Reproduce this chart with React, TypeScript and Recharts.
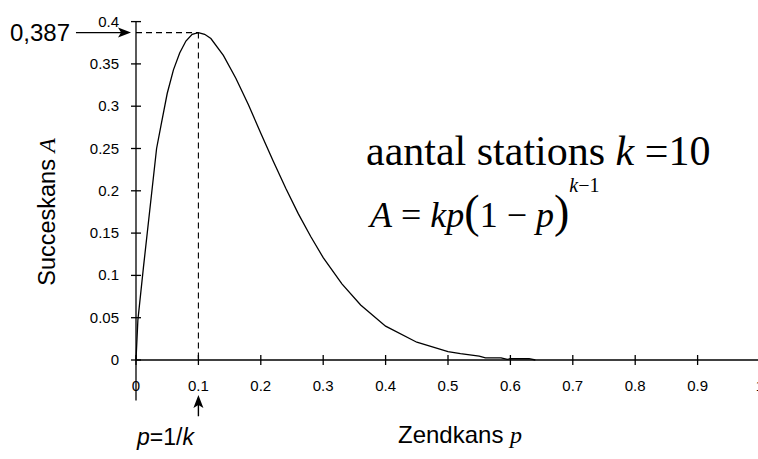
import React from 'react';
import { LineChart, Line, XAxis, YAxis, ReferenceLine, Customized } from 'recharts';

// Zendkans p (x) and Succeskans A (y)
const pValues = [0, 0.003, 0.012, 0.033, 0.04, 0.05, 0.06, 0.07, 0.08, 0.09, 0.1, 0.11, 0.12, 0.14, 0.16, 0.18, 0.2, 0.22, 0.24, 0.26, 0.28, 0.3, 0.33, 0.36, 0.4, 0.45, 0.5, 0.52, 0.55, 0.56, 0.585, 0.595, 0.6, 0.63, 0.64];
const aValues = [0, 0.047, 0.11, 0.25, 0.277, 0.315, 0.343, 0.363, 0.377, 0.385, 0.387, 0.385, 0.38, 0.36, 0.333, 0.302, 0.268, 0.235, 0.203, 0.173, 0.146, 0.121, 0.09, 0.065, 0.04, 0.021, 0.01, 0.0075, 0.0045, 0.0025, 0.0025, 0.0008, 0.0015, 0.0015, 0];

const xTicks = [0, 0.1, 0.2, 0.3, 0.4, 0.5, 0.6, 0.7, 0.8, 0.9, 1];
const xTickLabels = ['0', '0.1', '0.2', '0.3', '0.4', '0.5', '0.6', '0.7', '0.8', '0.9', '1'];
const yTicks = [0, 0.05, 0.1, 0.15, 0.2, 0.25, 0.3, 0.35, 0.4];
const yTickLabels = ['0', '0.05', '0.1', '0.15', '0.2', '0.25', '0.3', '0.35', '0.4'];

const peakP = 0.1;
const peakA = 0.387;
const peakLabel = '0,387';

const data = pValues.map((p, i) => ({ p, a: aValues[i] }));

const SANS = "'Liberation Sans', Arial, Helvetica, sans-serif";
const SERIF = "'Liberation Serif', 'Times New Roman', Times, serif";
const AXIS_X = 136;
const AXIS_Y = 360;

const YTick = (props: any) => {
  const { y, payload } = props;
  const idx = yTicks.indexOf(payload.value);
  const label = idx >= 0 ? yTickLabels[idx] : String(payload.value);
  return (
    <g>
      <line x1={AXIS_X - 5} x2={AXIS_X + 5} y1={y} y2={y} stroke="#000" strokeWidth={1.3} />
      <text x={AXIS_X - 17} y={y} dy={5} textAnchor="end" fontFamily={SANS} fontSize={15} fill="#000">
        {label}
      </text>
    </g>
  );
};

const XTick = (props: any) => {
  const { x, payload } = props;
  const idx = xTicks.indexOf(payload.value);
  const label = idx >= 0 ? xTickLabels[idx] : String(payload.value);
  return (
    <g>
      <line x1={x} x2={x} y1={AXIS_Y - 5} y2={AXIS_Y + 5} stroke="#000" strokeWidth={1.3} />
      <text x={x} y={391} textAnchor="middle" fontFamily={SANS} fontSize={15} fill="#000">
        {label}
      </text>
    </g>
  );
};

const Arrow = (props: any) => {
  const { x1, y1, x2, y2 } = props;
  const dx = x2 - x1;
  const dy = y2 - y1;
  const len = Math.sqrt(dx * dx + dy * dy) || 1;
  const ux = dx / len;
  const uy = dy / len;
  const hl = 13;
  const hw = 5;
  const bx = x2 - ux * hl;
  const by = y2 - uy * hl;
  const nx = -uy;
  const ny = ux;
  const pts = `${x2},${y2} ${bx + nx * hw},${by + ny * hw} ${x2 - ux * (hl - 3)},${y2 - uy * (hl - 3)} ${bx - nx * hw},${by - ny * hw}`;
  return (
    <g>
      <line x1={x1} y1={y1} x2={x2 - ux * 5} y2={y2 - uy * 5} stroke="#000" strokeWidth={1.4} />
      <polygon points={pts} fill="#000" />
    </g>
  );
};

const Annotations = () => (
  <g>
    <text x={10} y={41} fontFamily={SANS} fontSize={24} fill="#000">{peakLabel}</text>
    <text x={137} y={445} fontFamily={SANS} fontSize={23} fill="#000">
      <tspan fontStyle="italic">p</tspan>=1/<tspan fontStyle="italic">k</tspan>
    </text>
    <text x={398} y={443} fontFamily={SANS} fontSize={24} fill="#000">
      Zendkans <tspan fontFamily={SERIF} fontStyle="italic">p</tspan>
    </text>
    <text transform="rotate(-90, 55, 212)" x={55} y={212} textAnchor="middle" fontFamily={SANS} fontSize={23.5} fill="#000">
      Succeskans <tspan fontFamily={SERIF} fontStyle="italic">A</tspan>
    </text>
    <text x={366} y={165} fontFamily={SERIF} fontSize={42} fill="#000">
      aantal stations <tspan fontStyle="italic">k</tspan> =10
    </text>
    <text x={370} y={227} fontFamily={SERIF} fontSize={36} fill="#000">
      <tspan fontStyle="italic">A</tspan> = <tspan fontStyle="italic">kp</tspan>
      <tspan fontSize={46}>(</tspan>1 − <tspan fontStyle="italic">p</tspan>
      <tspan fontSize={46}>)</tspan>
      <tspan fontSize={20} fontStyle="italic" dy={-35}>k</tspan>
      <tspan fontSize={20}>−1</tspan>
    </text>
  </g>
);

export default function App() {
  return (
    <div style={{ position: 'fixed', left: 0, top: 0, width: 758, height: 459, overflow: 'hidden', background: '#fff' }}>
      <LineChart
        width={770}
        height={459}
        data={data}
        margin={{ top: 21.6, right: 10, bottom: 59, left: 0 }}
      >
        <XAxis
          dataKey="p"
          type="number"
          domain={[0, 1]}
          ticks={xTicks}
          interval={0}
          height={40}
          axisLine={{ stroke: '#000', strokeWidth: 1.3 }}
          tickLine={false}
          tick={<XTick />}
        />
        <YAxis
          type="number"
          domain={[0, 0.4]}
          ticks={yTicks}
          interval={0}
          width={136}
          axisLine={false}
          tickLine={false}
          tick={<YTick />}
        />
        <ReferenceLine
          segment={[{ x: 0, y: 0.4 }, { x: 0, y: -0.048 }]}
          stroke="#000"
          strokeWidth={1.3}
          ifOverflow="visible"
        />
        <ReferenceLine
          segment={[{ x: 0, y: peakA }, { x: peakP, y: peakA }]}
          stroke="#000"
          strokeWidth={1.1}
          strokeDasharray="6 4"
          ifOverflow="visible"
        />
        <ReferenceLine
          segment={[{ x: peakP, y: peakA }, { x: peakP, y: 0 }]}
          stroke="#000"
          strokeWidth={1.1}
          strokeDasharray="6 4"
          ifOverflow="visible"
        />
        <ReferenceLine
          segment={[{ x: -0.0962, y: peakA }, { x: -0.008, y: peakA }]}
          ifOverflow="visible"
          shape={(p: any) => <Arrow {...p} />}
        />
        <ReferenceLine
          segment={[{ x: peakP, y: -0.0665 }, { x: peakP, y: -0.0415 }]}
          ifOverflow="visible"
          shape={(p: any) => <Arrow {...p} />}
        />
        <Line
          type="linear"
          dataKey="a"
          stroke="#000"
          strokeWidth={1.3}
          dot={false}
          isAnimationActive={false}
        />
        <Customized component={Annotations} />
      </LineChart>
    </div>
  );
}
